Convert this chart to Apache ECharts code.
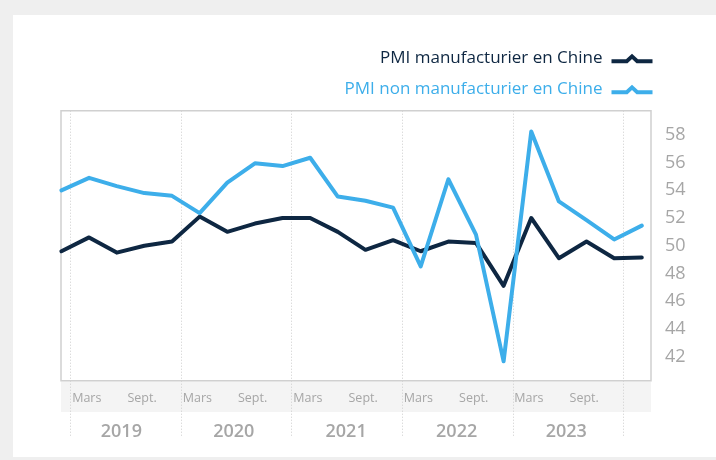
<!DOCTYPE html>
<html><head><meta charset="utf-8">
<script src="https://cdn.jsdelivr.net/npm/echarts@6/dist/echarts.min.js"></script>
<style>html,body{margin:0;padding:0;background:#efefef}#c{width:716px;height:460px}</style>
</head><body><div id="c"></div>
<script>
// Quarterly observations, x position in months from Jan 2019 (0)
const months = [-1, 2, 5, 8, 11, 14, 17, 20, 23, 26, 29, 32, 35, 38, 41, 44, 47, 50, 53, 56, 59, 62];
const manufacturier = [49.6, 50.6, 49.5, 50.0, 50.3, 52.1, 51.0, 51.6, 52.0, 52.0, 51.0, 49.7, 50.4, 49.6, 50.3, 50.2, 47.1, 52.0, 49.1, 50.3, 49.1, 49.15];
const nonManufacturier = [54.0, 54.9, 54.3, 53.8, 53.6, 52.35, 54.55, 55.95, 55.75, 56.35, 53.55, 53.25, 52.75, 48.5, 54.8, 50.8, 41.65, 58.25, 53.2, 51.85, 50.45, 51.45];
const seriesNames = ['PMI manufacturier en Chine', 'PMI non manufacturier en Chine'];
const years = ['2019', '2020', '2021', '2022', '2023'];
const yearLabelPos = [5.5, 17.7, 29.9, 41.9, 53.8];
const yearBoundaries = [0, 12, 24, 36, 48, 60];
const monthLabelPos = [1.75, 7.75, 13.75, 19.75, 25.75, 31.75, 37.75, 43.75, 49.75, 55.75];
const monthLabelText = ['Mars', 'Sept.', 'Mars', 'Sept.', 'Mars', 'Sept.', 'Mars', 'Sept.', 'Mars', 'Sept.'];
const yTicks = [42, 44, 46, 48, 50, 52, 54, 56, 58];

const DARK = '#0e2742', LIGHT = '#3daeea', GREY = '#a6a6a6', DOT = '#cdcdcd';
const FONT = 'Open Sans';
const icon = 'path://M0,5.5 L14.5,5.5 L20.5,0 L26.5,5.5 L41,5.5 L41,9.5 L25,9.5 L20.5,5.2 L16,9.5 L0,9.5 Z';

const chart = echarts.init(document.getElementById('c'), null, {renderer: 'canvas'});
const xMin = -1.05, xMax = 63;
const labelMap = {};
monthLabelPos.forEach((p, i) => labelMap[p] = monthLabelText[i]);
const yearMap = {};
yearLabelPos.forEach((p, i) => yearMap[p] = years[i]);

const legendBase = {right: 63.5, orient: 'vertical', align: 'right', padding: 0,
  icon: icon, itemWidth: 41, itemHeight: 9.5};

chart.setOption({
  animation: false,
  backgroundColor: '#efefef',
  textStyle: {fontFamily: FONT},
  graphic: [{type: 'rect', z: -100, shape: {x: 13, y: 15, width: 703, height: 442}, style: {fill: '#ffffff'}, silent: true}],
  legend: [
    Object.assign({}, legendBase, {top: 50, data: [{name: seriesNames[0]}],
      textStyle: {fontSize: 17, fontFamily: FONT, color: DARK, padding: [0, 4, 0, 0]}}),
    Object.assign({}, legendBase, {top: 81, data: [{name: seriesNames[1]}],
      textStyle: {fontSize: 17, fontFamily: FONT, color: LIGHT, padding: [0, 4, 0, 0]}})
  ],
  grid: [
    {left: 61, right: 65, top: 110.7, height: 270, show: true, borderColor: '#d0d0d0', borderWidth: 1.5, backgroundColor: 'transparent', z: 2},
    {left: 61, right: 65, top: 381.5, height: 30.5, show: true, borderWidth: 0, backgroundColor: '#f4f4f4', z: 0}
  ],
  xAxis: [
    {type: 'value', gridIndex: 0, min: xMin, max: xMax, position: 'bottom',
     axisLine: {show: false},
     axisTick: {show: true, customValues: yearBoundaries, length: 56, inside: false, lineStyle: {color: DOT, type: [1, 2], width: 1}},
     splitLine: {show: true, lineStyle: {color: DOT, type: [1, 2], width: 1}},
     axisLabel: {customValues: monthLabelPos, formatter: v => labelMap[v] || '', margin: 11, fontSize: 12.5, color: GREY, fontFamily: FONT}},
    {type: 'value', gridIndex: 0, min: xMin, max: xMax, position: 'bottom',
     axisLine: {show: false}, axisTick: {show: false}, splitLine: {show: false},
     axisLabel: {customValues: yearLabelPos, formatter: v => yearMap[v] || '', margin: 42, fontSize: 18, fontWeight: 600, color: GREY, fontFamily: FONT}},
    {type: 'value', gridIndex: 1, min: xMin, max: xMax, show: false}
  ],
  yAxis: [
    {type: 'value', gridIndex: 0, min: 40.25, max: 59.75, position: 'right',
     axisLine: {show: false}, axisTick: {show: false}, splitLine: {show: false},
     axisLabel: {customValues: yTicks, margin: 14, fontSize: 18, color: GREY, fontFamily: FONT}},
    {type: 'value', gridIndex: 1, show: false}
  ],
  series: [
    {name: seriesNames[0], type: 'line', xAxisIndex: 0, yAxisIndex: 0, symbol: 'none', color: DARK,
     lineStyle: {width: 4, color: DARK, join: 'round', cap: 'round'},
     data: months.map((m, i) => [m, manufacturier[i]])},
    {name: seriesNames[1], type: 'line', xAxisIndex: 0, yAxisIndex: 0, symbol: 'none', color: LIGHT,
     lineStyle: {width: 4, color: LIGHT, join: 'round', cap: 'round'},
     data: months.map((m, i) => [m, nonManufacturier[i]])}
  ]
});
</script></body></html>
